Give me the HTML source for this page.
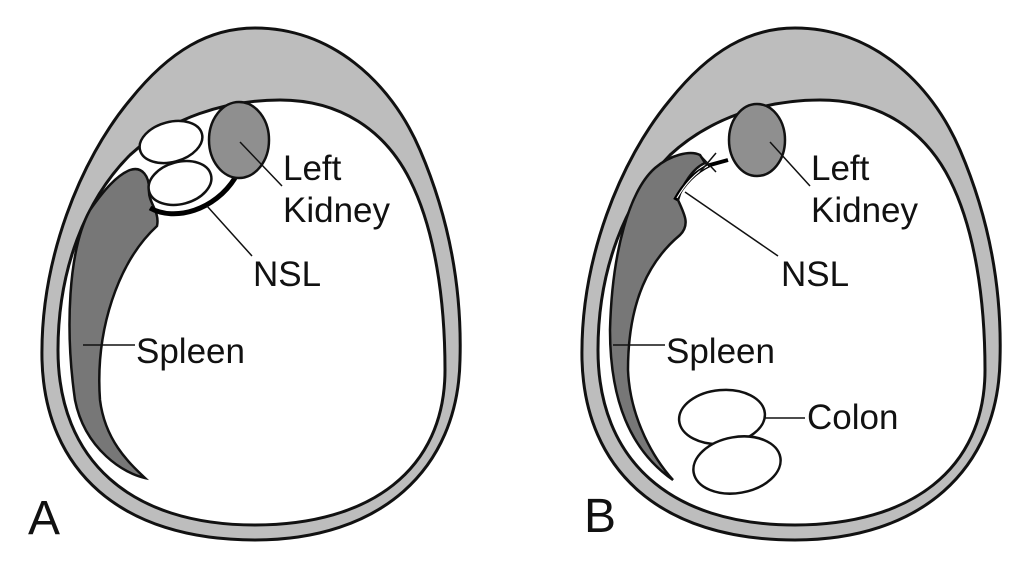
<!DOCTYPE html>
<html><head><meta charset="utf-8"><style>
html,body{margin:0;padding:0;background:#fff;width:1024px;height:576px;overflow:hidden}
text{font-family:"Liberation Sans",sans-serif;fill:#111}
</style></head><body>
<svg width="1024" height="576" viewBox="0 0 1024 576" xmlns="http://www.w3.org/2000/svg">
<defs>
<g id="egg">
<path d="M255,28 C330,28 390,80 420,150 C450,220 462,290 460,360 C458,470 380,540 255,540 C120,540 45,470 42,360 C40,260 80,160 130,100 C170,50 210,28 255,28 Z" fill="#bdbdbd" stroke="#111" stroke-width="3"/>
<path d="M280,100 C340,100 385,130 410,180 C435,230 445,300 445,370 C445,470 370,525 255,525 C130,525 58,460 58,350 C58,270 85,200 130,155 C170,118 225,100 280,100 Z" fill="#fff" stroke="#111" stroke-width="3"/>
</g>
</defs>
<!-- Panel A -->
<use href="#egg"/>
<path d="M130,170 C142,166 150,176 149,192 C149,203 160,212 157,226 C118,262 95,330 100,400 C105,440 128,462 145,478 C125,474 85,450 75,400 C65,330 68,250 90,210 C104,190 117,175 130,170 Z" fill="#777" stroke="#111" stroke-width="2.5"/>
<path d="M150,208 C175,222 215,210 235,178" fill="none" stroke="#000" stroke-width="5"/>
<ellipse cx="171" cy="142" rx="32" ry="20" transform="rotate(-15 171 142)" fill="#fff" stroke="#111" stroke-width="2.5"/>
<ellipse cx="180" cy="183" rx="32" ry="21" transform="rotate(-15 180 183)" fill="#fff" stroke="#111" stroke-width="2.5"/>
<ellipse cx="239" cy="140" rx="30" ry="38" fill="#8f8f8f" stroke="#111" stroke-width="2.5"/>
<line x1="240" y1="142" x2="282" y2="186" stroke="#111" stroke-width="1.5"/>
<line x1="207" y1="206" x2="252" y2="256" stroke="#111" stroke-width="1.5"/>
<line x1="83" y1="345" x2="135" y2="345" stroke="#111" stroke-width="1.5"/>
<text x="283" y="180" font-size="35">Left</text>
<text x="283" y="222" font-size="35">Kidney</text>
<text x="253" y="286" font-size="35">NSL</text>
<text x="136" y="363" font-size="35">Spleen</text>
<text x="28" y="534" font-size="48">A</text>
<!-- Panel B -->
<use href="#egg" transform="translate(540,0)"/>
<path d="M700,155 C690,150 670,155 655,168 C630,190 612,250 610,330 C610,400 630,450 673,480 C655,460 630,420 628,370 C628,300 650,260 680,235 C690,225 685,215 678,200 C682,185 693,168 705,163 Z" fill="#777" stroke="#111" stroke-width="2.5"/>
<path d="M675,200 C683,185 695,172 710,165 L728,160" fill="none" stroke="#000" stroke-width="4"/>
<path d="M677,198 C685,184 696,172 708,166" fill="none" stroke="#fff" stroke-width="1.2"/>
<path d="M700,155 L716,172 M716,153 L700,172" stroke="#111" stroke-width="1.5"/>
<ellipse cx="757" cy="140" rx="28" ry="36" fill="#8f8f8f" stroke="#111" stroke-width="2.5"/>
<ellipse cx="722" cy="417" rx="43" ry="27" transform="rotate(-5 722 417)" fill="#fff" stroke="#111" stroke-width="2.5"/>
<ellipse cx="737" cy="465" rx="44" ry="28" transform="rotate(-10 737 465)" fill="#fff" stroke="#111" stroke-width="2.5"/>
<line x1="770" y1="142" x2="810" y2="186" stroke="#111" stroke-width="1.5"/>
<line x1="685" y1="192" x2="778" y2="256" stroke="#111" stroke-width="1.5"/>
<line x1="613" y1="345" x2="665" y2="345" stroke="#111" stroke-width="1.5"/>
<line x1="765" y1="418" x2="805" y2="418" stroke="#111" stroke-width="1.5"/>
<text x="811" y="180" font-size="35">Left</text>
<text x="811" y="222" font-size="35">Kidney</text>
<text x="781" y="286" font-size="35">NSL</text>
<text x="666" y="363" font-size="35">Spleen</text>
<text x="807" y="429" font-size="35">Colon</text>
<text x="584" y="532" font-size="48">B</text>
</svg>
</body></html>
